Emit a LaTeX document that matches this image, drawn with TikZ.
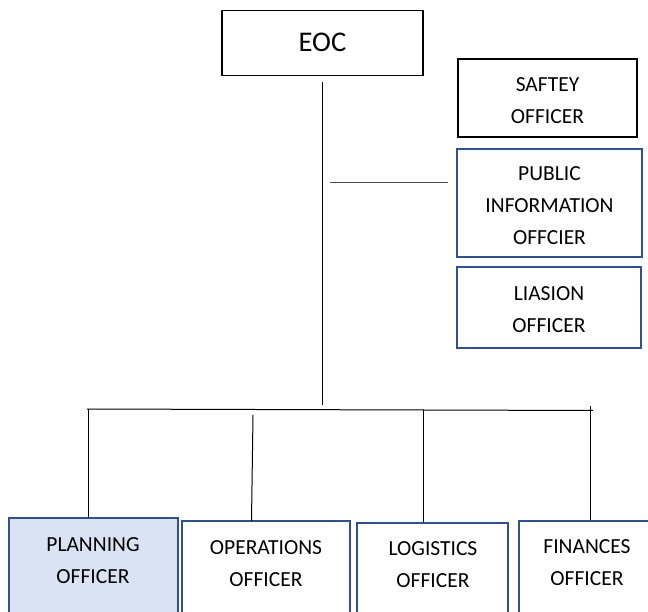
\documentclass[tikz,border=0pt]{standalone}
\usepackage{fontspec}
\setmainfont{Carlito}
\definecolor{boxblue}{RGB}{47,82,143}
\definecolor{planfill}{RGB}{218,227,243}
\begin{document}
\begin{tikzpicture}[x=1pt,y=-1pt,
  blackbox/.style={draw=black, line width=1.8pt, rectangle, inner sep=0pt},
  bluebox/.style={draw=boxblue, line width=1.8pt, rectangle, inner sep=0pt},
  lbl/.style={align=center, inner sep=0pt, font=\fontsize{21.5}{32}\selectfont},
  conn/.style={draw=black, line width=1pt}]
\useasboundingbox (0,0) rectangle (648,612);
\clip (0,0) rectangle (648,612);
% top
\node[blackbox, minimum width=201pt, minimum height=65pt] (eoc) at (322.5,43) {};
\node[inner sep=0pt, font=\fontsize{28.5}{34}\selectfont] (eoct) at (322.5,42) {EOC};
% side boxes
\node[blackbox, minimum width=179pt, minimum height=78pt] (saf) at (547.5,98) {};
\node[lbl] (saft) at (547.5,101) {SAFTEY\\OFFICER};
\node[bluebox, minimum width=185pt, minimum height=108pt] (pub) at (549.5,203) {};
\node[lbl] (pubt) at (549.5,205.5) {PUBLIC\\INFORMATION\\OFFCIER};
\node[bluebox, minimum width=184pt, minimum height=81pt] (lia) at (549,307.5) {};
\node[lbl] (liat) at (549,309.5) {LIASION\\OFFICER};
% bottom boxes
\node[bluebox, fill=planfill, minimum width=169pt, minimum height=130pt] (plan) at (93.5,583) {};
\node[lbl] (plant) at (93,561) {PLANNING\\OFFICER};
\node[bluebox, minimum width=168pt, minimum height=130pt] (ops) at (266,586) {};
\node[lbl] (opst) at (266,564) {OPERATIONS\\OFFICER};
\node[bluebox, minimum width=151pt, minimum height=130pt] (log) at (432.5,588) {};
\node[lbl] (logt) at (433,565) {LOGISTICS\\OFFICER};
\node[bluebox, minimum width=141pt, minimum height=130pt] (fin) at (589.5,586) {};
\node[lbl] (fint) at (587,563) {FINANCES\\OFFICER};
% connectors
\coordinate (trunkTop) at (322.5,82);
\coordinate (trunkBot) at (322.5,405);
\draw[conn] (trunkTop) -- (trunkBot);
\coordinate (sideL) at (330,183);
\coordinate (sideR) at (448,183);
\draw[conn, draw=black!70] (sideL) -- (sideR);
\coordinate (busL) at (87,409);
\coordinate (busR) at (593,410.5);
\draw[conn] (busL) -- (busR);
\coordinate (planTop) at (88,409);
\draw[conn] (planTop) -- (plan.north -| planTop);
\coordinate (opsTop) at (253,415);
\coordinate (opsBot) at (251.5,521);
\draw[conn] (opsTop) -- (opsBot);
\coordinate (logTop) at (423,409.5);
\draw[conn] (logTop) -- (log.north -| logTop);
\coordinate (finTop) at (590,406);
\draw[conn] (finTop) -- (fin.north -| finTop);
\end{tikzpicture}
\end{document}
